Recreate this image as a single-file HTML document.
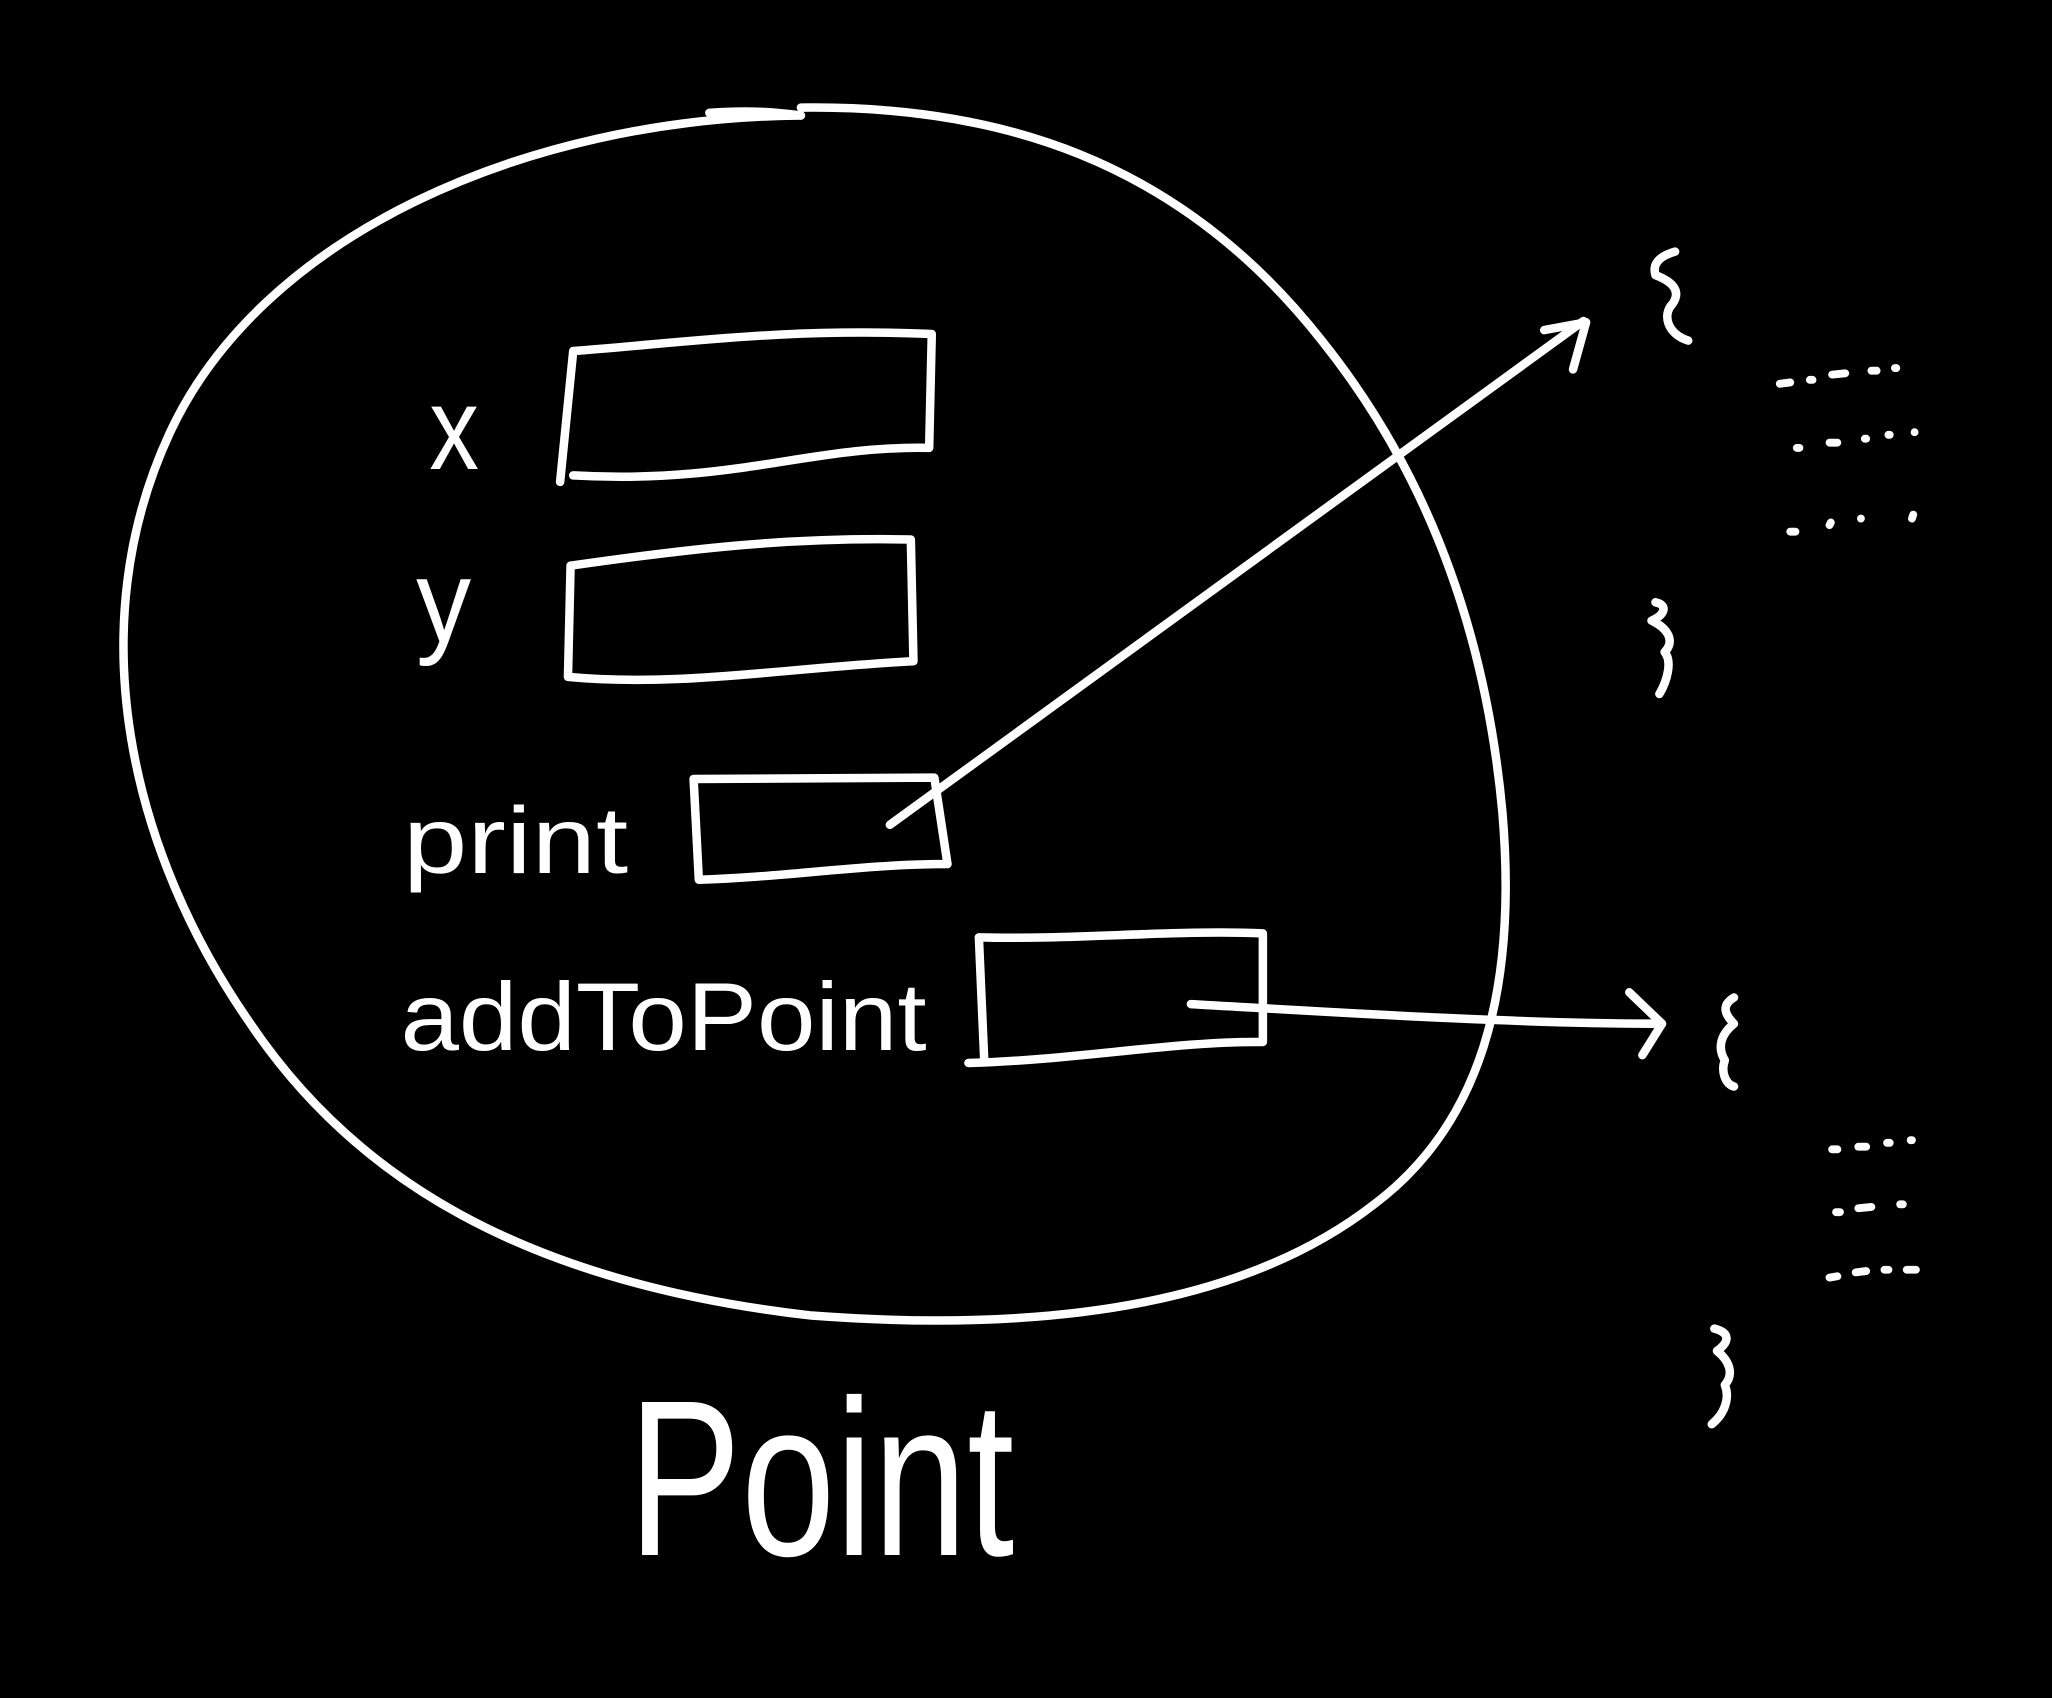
<!DOCTYPE html>
<html><head><meta charset="utf-8"><style>
html,body{margin:0;padding:0;background:#000;}
svg{display:block}
text{font-family:"Liberation Sans",sans-serif;fill:#fff}
</style></head><body>
<svg width="2052" height="1698" viewBox="0 0 1568 1297" xmlns="http://www.w3.org/2000/svg">
<rect width="1568" height="1297" fill="#000"/>
<g fill="none" stroke="#fff" stroke-width="6.5" stroke-linecap="round" stroke-linejoin="round">
<path d="M612 88 C 400 90 200 180 130 330 C 60 480 100 650 190 780 C 270 900 400 980 620 1005 C 820 1020 960 990 1050 920 C 1130 860 1160 760 1148 620 C 1135 480 1090 360 1010 260 C 900 120 760 80 612 82"/>
<path d="M542 86 C 570 84 590 85 612 88"/>
<path d="M438 268 C 520 262 600 250 712 255 L 710 342 C 620 340 560 370 438 363 M438 268 L 428 368"/>
<path d="M436 432 C 520 420 600 410 696 412 L 698 505 C 600 510 520 525 434 517 L 436 432"/>
<path d="M530 595 L 714 594 L 724 660 C 660 660 600 670 534 672 L 530 595"/>
<path d="M748 716 C 820 718 900 710 965 713 L 965 796 C 900 795 820 810 740 812 M748 716 L 752 808"/>
<path d="M680 630 L 1210 245"/>
<path d="M1180 252 L 1212 246 L 1202 282"/>
<path d="M910 767 C 1000 772 1150 782 1270 782"/>
<path d="M1245 758 L 1270 782 L 1255 806"/>
<path d="M1280 192 C 1270 195 1262 200 1265 210 C 1278 215 1285 222 1278 232 C 1270 240 1274 255 1290 260"/>
<path d="M1265 460 C 1275 462 1272 470 1262 474 C 1275 480 1280 490 1272 498 C 1278 505 1274 520 1268 530"/>
<path d="M1325 762 C 1315 768 1318 775 1325 782 C 1315 790 1312 800 1318 810 C 1315 818 1318 828 1325 830"/>
<path d="M1310 1015 C 1322 1018 1322 1025 1312 1032 C 1322 1040 1325 1050 1318 1058 C 1322 1068 1318 1080 1308 1088"/>
</g>
<g fill="none" stroke="#fff" stroke-width="6" stroke-linecap="round">
<path d="M1360 293 L1368 292 M1383 290 L1385 290 M1400 286 L1410 285 M1430 283 L1434 283 M1448 281 L1449 281"/>
<path d="M1373 342 L1375 342 M1398 338 L1404 338 M1425 335 L1426 335 M1443 332 L1444 332 M1463 330 L1463 330"/>
<path d="M1368 406 L1372 406 M1398 401 L1399 399 M1422 396 L1422 396 M1461 396 L1462 393"/>
<path d="M1400 878 L1404 878 M1420 876 L1426 876 M1442 873 L1444 873 M1460 871 L1461 871"/>
<path d="M1403 926 L1406 926 M1420 923 L1430 922 M1452 920 L1454 920"/>
<path d="M1398 976 L1404 975 M1418 972 L1426 971 M1440 970 L1443 970 M1457 970 L1464 970"/>
</g>
<text x="328" y="358" font-size="90" textLength="38" lengthAdjust="spacingAndGlyphs">x</text>
<text x="318" y="490" font-size="90" textLength="42" lengthAdjust="spacingAndGlyphs">y</text>
<text x="308" y="667" font-size="72" textLength="172" lengthAdjust="spacingAndGlyphs">print</text>
<text x="306" y="802" font-size="74" textLength="402" lengthAdjust="spacingAndGlyphs">addToPoint</text>
<text x="480" y="1188" font-size="170" textLength="295" lengthAdjust="spacingAndGlyphs">Point</text>
</svg>
</body></html>
